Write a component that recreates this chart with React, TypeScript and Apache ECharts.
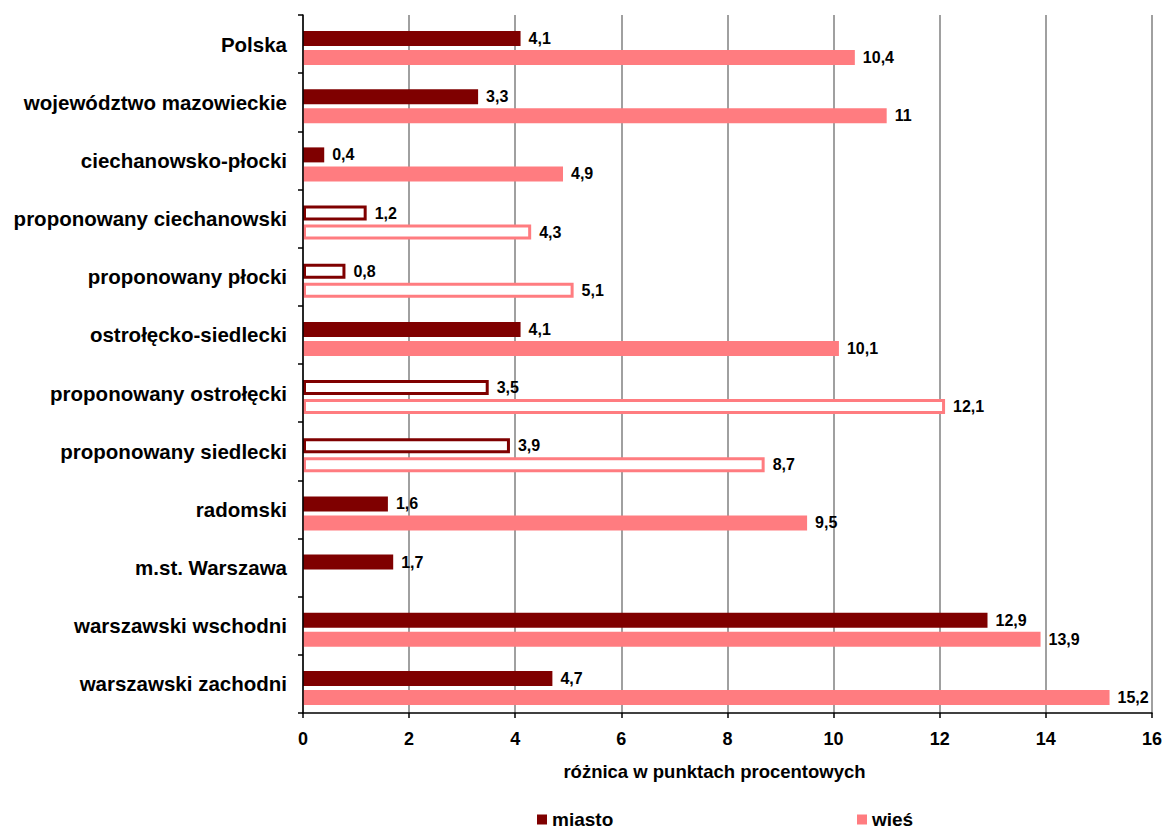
import React, { useEffect, useRef } from "react";
import * as echarts from "echarts";

const categories = [
  "Polska",
  "województwo mazowieckie",
  "ciechanowsko-płocki",
  "proponowany ciechanowski",
  "proponowany płocki",
  "ostrołęcko-siedlecki",
  "proponowany ostrołęcki",
  "proponowany siedlecki",
  "radomski",
  "m.st. Warszawa",
  "warszawski wschodni",
  "warszawski zachodni",
];
const miasto = [4.1, 3.3, 0.4, 1.2, 0.8, 4.1, 3.5, 3.9, 1.6, 1.7, 12.9, 4.7];
const wies: (number | null)[] = [10.4, 11, 4.9, 4.3, 5.1, 10.1, 12.1, 8.7, 9.5, null, 13.9, 15.2];
const hollow = [false, false, false, true, true, false, true, true, false, false, false, false];
const xTicks = [0, 2, 4, 6, 8, 10, 12, 14, 16];

const MIASTO = "#7F0000";
const WIES = "#FF7C80";
const FONT = "'Liberation Sans', Arial, sans-serif";

function buildData(values: (number | null)[], color: string) {
  return values.map((v, i) =>
    hollow[i] && v !== null
      ? { value: v, itemStyle: { color: "#ffffff", borderColor: color, borderWidth: 3 } }
      : { value: v }
  );
}

export default function App() {
  const ref = useRef<HTMLDivElement>(null);
  useEffect(() => {
    if (!ref.current) return;
    const chart = echarts.init(ref.current, undefined, { renderer: "svg" });
    const label = {
      show: true,
      position: "right" as const,
      distance: 8,
      color: "#000",
      fontWeight: "bold" as const,
      fontSize: 16,
      fontFamily: FONT,
      formatter: (p: any) =>
        p.value === null || p.value === undefined ? "" : String(p.value).replace(".", ","),
    };
    const legendText = { fontFamily: FONT, fontWeight: "bold" as const, fontSize: 19, color: "#000" };
    chart.setOption({
      animation: false,
      backgroundColor: "#ffffff",
      grid: [
        { left: 303, right: 13, top: 15, bottom: 119, containLabel: false },
        { left: 303, right: 13, top: 19, bottom: 115, containLabel: false },
      ],
      legend: [
        {
          data: ["miasto"],
          left: 532,
          top: 805,
          itemWidth: 10,
          itemHeight: 10,
          icon: "rect",
          textStyle: legendText,
        },
        {
          data: ["wieś"],
          left: 852,
          top: 805,
          itemWidth: 10,
          itemHeight: 10,
          icon: "rect",
          textStyle: legendText,
        },
      ],
      xAxis: [
        {
          type: "value",
          gridIndex: 0,
          min: xTicks[0],
          max: xTicks[xTicks.length - 1],
          interval: 2,
          name: "różnica w punktach procentowych",
          nameLocation: "middle",
          nameGap: 49,
          nameTextStyle: {
            fontFamily: FONT,
            fontWeight: "bold",
            fontSize: 18.5,
            color: "#000",
            padding: [0, 26, 0, 0],
          },
          axisLine: { show: true, lineStyle: { color: "#000", width: 1.5 } },
          axisTick: { show: true, length: 5, lineStyle: { color: "#000", width: 1.5 } },
          axisLabel: { margin: 17, fontFamily: FONT, fontWeight: "bold", fontSize: 18, color: "#000" },
          splitLine: { show: true, lineStyle: { color: "#808080", width: 1.5 } },
        },
        {
          type: "value",
          gridIndex: 1,
          min: xTicks[0],
          max: xTicks[xTicks.length - 1],
          interval: 2,
          show: false,
          splitLine: { show: false },
        },
      ],
      yAxis: [
        {
          type: "category",
          gridIndex: 0,
          data: categories,
          inverse: true,
          axisLine: { show: true, lineStyle: { color: "#000", width: 1.5 } },
          axisTick: { show: true, length: 5, inside: false, lineStyle: { color: "#000", width: 1.5 } },
          axisLabel: { margin: 16, fontFamily: FONT, fontWeight: "bold", fontSize: 20.5, color: "#000" },
          splitLine: { show: false },
          z: 5,
        },
        {
          type: "category",
          gridIndex: 1,
          data: categories,
          inverse: true,
          show: false,
        },
      ],
      series: [
        {
          name: "miasto",
          type: "bar",
          xAxisIndex: 1,
          yAxisIndex: 1,
          data: buildData(miasto, MIASTO),
          itemStyle: { color: MIASTO },
          barWidth: 15,
          barGap: "27%",
          label,
        },
        {
          name: "wieś",
          type: "bar",
          xAxisIndex: 1,
          yAxisIndex: 1,
          data: buildData(wies, WIES),
          itemStyle: { color: WIES },
          barWidth: 15,
          barGap: "27%",
          label,
        },
      ],
    });
    return () => chart.dispose();
  }, []);
  return (
    <div
      ref={ref}
      style={{ position: "absolute", left: 0, top: 0, width: 1165, height: 832 }}
    />
  );
}
